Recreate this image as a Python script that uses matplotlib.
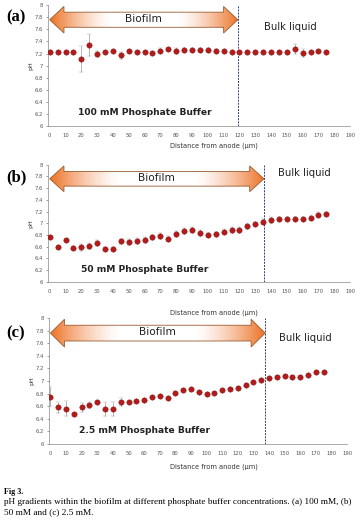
import matplotlib
matplotlib.use('Agg')
import matplotlib.pyplot as plt
import numpy as np
from matplotlib.patches import Polygon

# data
dist = np.arange(0, 180, 5)

ph_100 = [7.23, 7.23, 7.23, 7.23, 7.11, 7.34, 7.19, 7.23, 7.24, 7.17, 7.24, 7.23,
          7.23, 7.21, 7.25, 7.27, 7.25, 7.26, 7.26, 7.26, 7.26, 7.25, 7.24, 7.23,
          7.23, 7.23, 7.23, 7.23, 7.22, 7.23, 7.23, 7.27, 7.21, 7.23, 7.24, 7.23]
err_100 = [0.01, 0.01, 0.01, 0.01, 0.22, 0.18, 0.05, 0.01, 0.02, 0.06, 0.02, 0.01,
           0.01, 0.02, 0.04, 0.03, 0.05, 0.04, 0.04, 0.04, 0.03, 0.02, 0.02, 0.01,
           0.01, 0.01, 0.01, 0.01, 0.01, 0.01, 0.01, 0.08, 0.07, 0.02, 0.02, 0.01]

ph_50 = [6.76, 6.60, 6.71, 6.58, 6.59, 6.62, 6.66, 6.57, 6.57, 6.69, 6.68, 6.70,
         6.71, 6.76, 6.79, 6.74, 6.82, 6.87, 6.88, 6.83, 6.80, 6.81, 6.86, 6.89,
         6.89, 6.95, 6.99, 7.03, 7.05, 7.07, 7.08, 7.08, 7.08, 7.09, 7.15, 7.16]
err_50 = [0.02, 0.02, 0.02, 0.04, 0.06, 0.05, 0.05, 0.03, 0.03, 0.04, 0.05, 0.05,
          0.05, 0.04, 0.05, 0.05, 0.05, 0.05, 0.05, 0.05, 0.04, 0.04, 0.05, 0.05,
          0.05, 0.04, 0.04, 0.05, 0.05, 0.03, 0.03, 0.03, 0.03, 0.04, 0.04, 0.03]

ph_25 = [6.75, 6.58, 6.56, 6.48, 6.58, 6.62, 6.66, 6.56, 6.56, 6.67, 6.67, 6.68,
         6.70, 6.75, 6.77, 6.73, 6.81, 6.86, 6.87, 6.83, 6.80, 6.81, 6.85, 6.88,
         6.89, 6.94, 6.99, 7.02, 7.05, 7.07, 7.08, 7.07, 7.07, 7.09, 7.14, 7.15]
err_25 = [0.15, 0.08, 0.12, 0.02, 0.07, 0.05, 0.02, 0.11, 0.11, 0.06, 0.02, 0.01,
          0.01, 0.01, 0.01, 0.01, 0.01, 0.01, 0.01, 0.01, 0.01, 0.01, 0.01, 0.01,
          0.01, 0.01, 0.01, 0.01, 0.01, 0.01, 0.01, 0.01, 0.01, 0.01, 0.01, 0.01]

panels = ['(a)', '(b)', '(c)']
buffers = ['100 mM Phosphate Buffer', '50 mM Phosphate Buffer', '2.5 mM Phosphate Buffer']
biofilm_edge = [119, 135.5, 137.5]
bulk_pos = [(152, 7.64), (161, 7.86), (163, 7.68)]
yticks = np.round(np.arange(6, 8.01, 0.2), 1)
ytick_labels = ['6', '6.2', '6.4', '6.6', '6.8', '7', '7.2', '7.4', '7.6', '7.8', '8']
xticks = np.arange(0, 191, 10)

# axes boxes [left, bottom, width, height] in figure fractions
boxes = [[0.133, 0.759, 0.834, 0.231],
         [0.133, 0.461, 0.834, 0.224],
         [0.135, 0.151, 0.824, 0.241]]
label_y = [0.966, 0.660, 0.363]

fig = plt.figure(figsize=(3.62, 5.23), dpi=100)

# horizontal gradient: orange at both heads, white in the middle
t = np.linspace(-1, 1, 256)
w = np.clip((np.abs(t) - 0.35) / 0.65, 0, 1) ** 1.4
orange = np.array([0.93, 0.45, 0.15])
white = np.array([1.0, 1.0, 1.0])
img = white[None, :] * (1 - w[:, None]) + orange[None, :] * w[:, None]
img = img[None, :, :]

def draw_arrow(ax, x0, x1, yc):
    hl = 9.0
    bh = 0.125
    hh = 0.22
    pts = [(x0, yc), (x0 + hl, yc + hh), (x0 + hl, yc + bh), (x1 - hl, yc + bh),
           (x1 - hl, yc + hh), (x1, yc), (x1 - hl, yc - hh), (x1 - hl, yc - bh),
           (x0 + hl, yc - bh), (x0 + hl, yc - hh)]
    poly = Polygon(pts, closed=True, facecolor='none', edgecolor='#9a5a30', lw=0.6, zorder=4)
    ax.add_patch(poly)
    im = ax.imshow(img, extent=[x0, x1, yc - hh, yc + hh], aspect='auto', zorder=3)
    im.set_clip_path(poly)
    ax.text((x0 + x1) / 2, yc + 0.01, 'Biofilm', ha='center', va='center',
            fontsize=7.6, color='#222222', zorder=5)

datasets = [(ph_100, err_100), (ph_50, err_50), (ph_25, err_25)]
for i in range(3):
    ax = fig.add_axes(boxes[i])
    ph, err = datasets[i]
    ax.errorbar(dist, ph, yerr=err, fmt='o', color='#b01c1c', markersize=3.9,
                markeredgecolor='#8b1010', markeredgewidth=0.3,
                ecolor='#999999', elinewidth=0.5, capsize=1.2, capthick=0.5, zorder=6)
    ax.axvline(biofilm_edge[i], color='#2a3f7a', ls=(0, (2, 1.2)), lw=0.7, zorder=2)
    draw_arrow(ax, 0, biofilm_edge[i], 7.76)
    ax.text(bulk_pos[i][0], bulk_pos[i][1], 'Bulk liquid', ha='center', va='center',
            fontsize=7.2, color='#222222')
    ax.text(60, 6.22, buffers[i], ha='center', va='center', fontsize=6.6,
            fontweight='bold', color='#222222')
    ax.set_xlim(-1, 190)
    ax.set_ylim(6, 8)
    ax.set_yticks(yticks)
    ax.set_yticklabels(ytick_labels)
    ax.set_xticks(xticks)
    ax.tick_params(labelsize=3.8, length=1.5, width=0.4, colors='#555555', pad=2)
    ax.tick_params(axis='x', length=0, pad=5)
    for s in ['top', 'right']:
        ax.spines[s].set_visible(False)
    for s in ['left', 'bottom']:
        ax.spines[s].set_color('#888888')
        ax.spines[s].set_linewidth(0.5)
    ax.set_ylabel('pH', fontsize=4.5, color='#333333', labelpad=1)
    fig.text(0.016, label_y[i], panels[i], fontsize=12, fontweight='bold',
             family='Liberation Serif', ha='left', va='center')

fig.text(0.59, 1 - 146 / 523, 'Distance from anode (\u03bcm)', fontsize=4.8,
         color='#333333', ha='center', va='center')
fig.text(0.59, 1 - 313 / 523, 'Distance from anode (\u03bcm)', fontsize=4.8,
         color='#333333', ha='center', va='center')
fig.text(0.59, 1 - 467 / 523, 'Distance from anode (\u03bcm)', fontsize=4.8,
         color='#333333', ha='center', va='center')

fig.text(0.012, 1 - 492 / 523, 'Fig 3.', fontsize=5.8, fontweight='bold',
         family='Liberation Serif', ha='left', va='center')
fig.text(0.012, 1 - 502 / 523,
         'pH gradients within the biofilm at different phosphate buffer concentrations. (a) 100 mM, (b)',
         fontsize=6.7, family='Liberation Serif', ha='left', va='center')
fig.text(0.012, 1 - 512 / 523, '50 mM and (c) 2.5 mM.', fontsize=6.7,
         family='Liberation Serif', ha='left', va='center')

fig.savefig('out.png', dpi=100)
